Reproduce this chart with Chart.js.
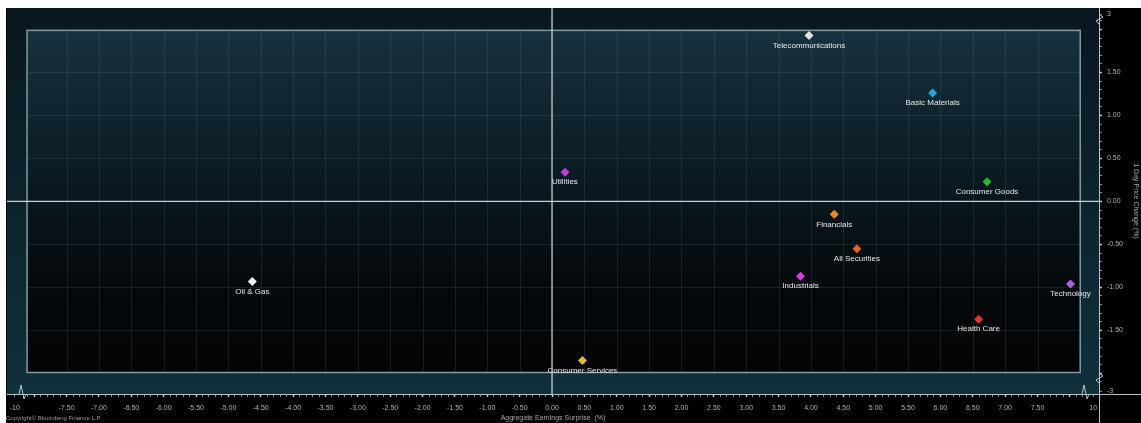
<!DOCTYPE html>
<html><head><meta charset="utf-8">
<script src="https://cdn.jsdelivr.net/npm/chart.js@4.4.1/dist/chart.umd.min.js"></script>
<style>
html,body{margin:0;padding:0;background:#ffffff;width:1141px;height:423px;overflow:hidden}
#wrap{position:absolute;left:6px;top:8px;width:1135px;height:415px;background:#000}
canvas{display:block}
</style></head><body>
<div id="wrap"><canvas id="c" width="1135" height="415"></canvas></div>
<script>
// ---- data ----
const sectors = ['Telecommunications','Basic Materials','Utilities','Consumer Goods','Financials','All Securities','Oil & Gas','Industrials','Technology','Health Care','Consumer Services'];
const earningsSurprise = [3.97, 5.88, 0.20, 6.72, 4.36, 4.71, -4.63, 3.84, 8.01, 6.59, 0.47];
const priceChange = [1.93, 1.26, 0.34, 0.23, -0.15, -0.55, -0.93, -0.87, -0.96, -1.37, -1.85];
const pointColors = ['#e4e4e4','#1ea8dc','#c23ddc','#2db82d','#ea8a1e','#e2661e','#f2f2f2','#d73fd9','#b160e4','#d8392c','#e9b645'];

const xTickValues = [-8.3,-7.5,-7,-6.5,-6,-5.5,-5,-4.5,-4,-3.5,-3,-2.5,-2,-1.5,-1,-0.5,0,0.5,1,1.5,2,2.5,3,3.5,4,4.5,5,5.5,6,6.5,7,7.5,8.36];
const xTickLabels = ['-10','-7.50','-7.00','-6.50','-6.00','-5.50','-5.00','-4.50','-4.00','-3.50','-3.00','-2.50','-2.00','-1.50','-1.00','-0.50','0.00','0.50','1.00','1.50','2.00','2.50','3.00','3.50','4.00','4.50','5.00','5.50','6.00','6.50','7.00','7.50','10'];
const yTickValues = [2.18,1.5,1,0.5,0,-0.5,-1,-1.5,-2.21];
const yTickLabels = ['3','1.50','1.00','0.50','0.00','-0.50','-1.00','-1.50','-3'];

// ---- helpers ----
function minorRange(a,b){const r=[];for(let i=Math.round(a*10);i<=Math.round(b*10);i++)r.push(i/10);return r;}
function buildTicks(values, a, b){
  const all = minorRange(a,b).concat(values);
  const uniq = [];
  all.sort((p,q)=>p-q).forEach(v=>{ if(!uniq.length || Math.abs(uniq[uniq.length-1]-v)>1e-6) uniq.push(v); });
  return uniq.map(v=>({value:v}));
}
function labelFor(v, values, labels){
  for(let i=0;i<values.length;i++) if(Math.abs(values[i]-v)<1e-6) return labels[i];
  return '';
}
function isMajor(v){return Math.abs(v*2-Math.round(v*2))<1e-6;}
function noPad(s){ s.paddingLeft=0; s.paddingRight=0; s.paddingTop=0; s.paddingBottom=0; }

const frame = {x0:-8.11, x1:8.16, y0:-1.99, y1:1.99};

const bgPlugin = {
  id:'bg',
  beforeDraw(chart){
    const {ctx, chartArea:a, scales:{x,y}} = chart;
    ctx.save();
    let g = ctx.createLinearGradient(0,a.top,0,a.bottom);
    g.addColorStop(0,'#09171f'); g.addColorStop(1,'#10303c');
    ctx.fillStyle = g; ctx.fillRect(a.left,a.top,a.right-a.left,a.bottom-a.top);
    const fx0=x.getPixelForValue(frame.x0), fx1=x.getPixelForValue(frame.x1);
    const fy0=y.getPixelForValue(frame.y1), fy1=y.getPixelForValue(frame.y0);
    g = ctx.createLinearGradient(0,fy0,0,fy1);
    g.addColorStop(0,'#16323f'); g.addColorStop(0.45,'#0a1920'); g.addColorStop(0.75,'#05090c'); g.addColorStop(1,'#030405');
    ctx.fillStyle = g; ctx.fillRect(fx0,fy0,fx1-fx0,fy1-fy0);
    // grid inside frame
    ctx.beginPath(); ctx.rect(fx0,fy0,fx1-fx0,fy1-fy0); ctx.clip();
    ctx.strokeStyle='rgba(110,150,165,0.16)'; ctx.lineWidth=1;
    xTickValues.forEach(v=>{ if(Math.abs(v)<=8 && v!==0){const px=Math.round(x.getPixelForValue(v))+0.5; ctx.beginPath(); ctx.moveTo(px,fy0); ctx.lineTo(px,fy1); ctx.stroke();}});
    yTickValues.forEach(v=>{ if(Math.abs(v)<=2 && v!==0){const py=Math.round(y.getPixelForValue(v))+0.5; ctx.beginPath(); ctx.moveTo(fx0,py); ctx.lineTo(fx1,py); ctx.stroke();}});
    ctx.restore();
    ctx.save();
    ctx.strokeStyle='#7f9ba4'; ctx.lineWidth=1.5;
    ctx.strokeRect(fx0,fy0,fx1-fx0,fy1-fy0);
    // zero lines
    ctx.strokeStyle='#c8d0d3'; ctx.lineWidth=1.3;
    const zx=x.getPixelForValue(0), zy=y.getPixelForValue(0);
    ctx.beginPath(); ctx.moveTo(zx,a.top); ctx.lineTo(zx,a.bottom); ctx.stroke();
    ctx.beginPath(); ctx.moveTo(a.left,zy); ctx.lineTo(a.right,zy); ctx.stroke();
    ctx.restore();
  },
  afterDatasetsDraw(chart){
    const {ctx} = chart;
    const meta = chart.getDatasetMeta(0);
    ctx.save();
    ctx.font = '8px "Liberation Sans", Arial, sans-serif';
    ctx.fillStyle = '#e6e6e6'; ctx.textAlign='center'; ctx.textBaseline='middle';
    meta.data.forEach((el,i)=>{ ctx.fillText(sectors[i], el.x, el.y+10); });
    ctx.restore();
  },
  afterDraw(chart){
    const {ctx, chartArea:a, width, height} = chart;
    ctx.save();
    ctx.strokeStyle='#b9c3c7'; ctx.lineWidth=1;
    ctx.beginPath(); ctx.moveTo(a.right,a.bottom+0.5); ctx.lineTo(width,a.bottom+0.5); ctx.stroke();
    ctx.beginPath(); ctx.moveTo(a.right+0.5,a.top); ctx.lineTo(a.right+0.5,height); ctx.stroke();
    // break marks
    function zig(pts){ctx.beginPath(); ctx.moveTo(pts[0][0],pts[0][1]); for(let i=1;i<pts.length;i++) ctx.lineTo(pts[i][0],pts[i][1]); ctx.stroke();}
    const b=a.bottom, r=a.right;
    zig([[a.left+12,b],[a.left+14,b-9],[a.left+17,b+5],[a.left+19,b]]);
    zig([[r-17,b],[r-15,b-9],[r-12,b+5],[r-10,b]]);
    zig([[r,a.top+6],[r+4,a.top+9],[r-3,a.top+13],[r,a.top+16]]);
    zig([[r,b-21],[r+4,b-18],[r-3,b-14],[r,b-11]]);
    // copyright
    ctx.font='6px "Liberation Sans", Arial, sans-serif'; ctx.fillStyle='#9c9c9c';
    ctx.textAlign='left'; ctx.textBaseline='middle';
    ctx.fillText('Copyright\u00a9 Bloomberg Finance L.P.', 0, 410);
    ctx.restore();
  }
};

new Chart(document.getElementById('c'), {
  type:'scatter',
  data:{ datasets:[{
    data: earningsSurprise.map((v,i)=>({x:v, y:priceChange[i]})),
    pointStyle:'rectRot', pointRadius:4.5, pointBackgroundColor:pointColors, pointBorderColor:pointColors, pointBorderWidth:0
  }]},
  options:{
    responsive:false, animation:false,
    layout:{autoPadding:false, padding:{left:1,top:0,right:0,bottom:0}},
    plugins:{legend:{display:false}, tooltip:{enabled:false}},
    scales:{
      x:{ type:'linear', position:'bottom', min:-8.42, max:8.45,
        afterBuildTicks:s=>{ s.ticks = buildTicks(xTickValues,-8.1,8.2); },
        afterFit:s=>{ s.height = 29; noPad(s); },
        ticks:{ autoSkip:false, maxRotation:0, minRotation:0, padding:7, color:'#b2b2b2',
          font:{size:7, family:'"Liberation Sans", Arial, sans-serif'},
          callback:v=>labelFor(v,xTickValues,xTickLabels) },
        grid:{ drawOnChartArea:false, drawTicks:true, tickLength:3,
          tickColor:c=>isMajor(c.tick.value)?'#c0c8cc':'#7f8e94', tickWidth:c=>isMajor(c.tick.value)?1.5:1 },
        border:{ display:true, color:'#b9c3c7', width:1 },
        title:{ display:true, text:'Aggregate Earnings Surprise  (%)', color:'#a6a6a6',
          font:{size:7, family:'"Liberation Sans", Arial, sans-serif'}, padding:{top:0,bottom:1} }
      },
      y:{ type:'linear', position:'right', min:-2.24, max:2.25,
        afterBuildTicks:s=>{ s.ticks = buildTicks(yTickValues,-2.1,2.1); },
        afterFit:s=>{ s.width = 42; noPad(s); },
        ticks:{ autoSkip:false, padding:5, color:'#b2b2b2',
          font:{size:7, family:'"Liberation Sans", Arial, sans-serif'},
          callback:v=>labelFor(v,yTickValues,yTickLabels) },
        grid:{ drawOnChartArea:false, drawTicks:true, tickLength:3,
          tickColor:c=>isMajor(c.tick.value)?'#c0c8cc':'#7f8e94', tickWidth:c=>isMajor(c.tick.value)?1.5:1 },
        border:{ display:true, color:'#b9c3c7', width:1 },
        title:{ display:true, text:'1 Day Price Change (%)', color:'#a6a6a6',
          font:{size:7, family:'"Liberation Sans", Arial, sans-serif'}, padding:{top:1,bottom:1} }
      }
    }
  },
  plugins:[bgPlugin]
});
</script>
</body></html>
